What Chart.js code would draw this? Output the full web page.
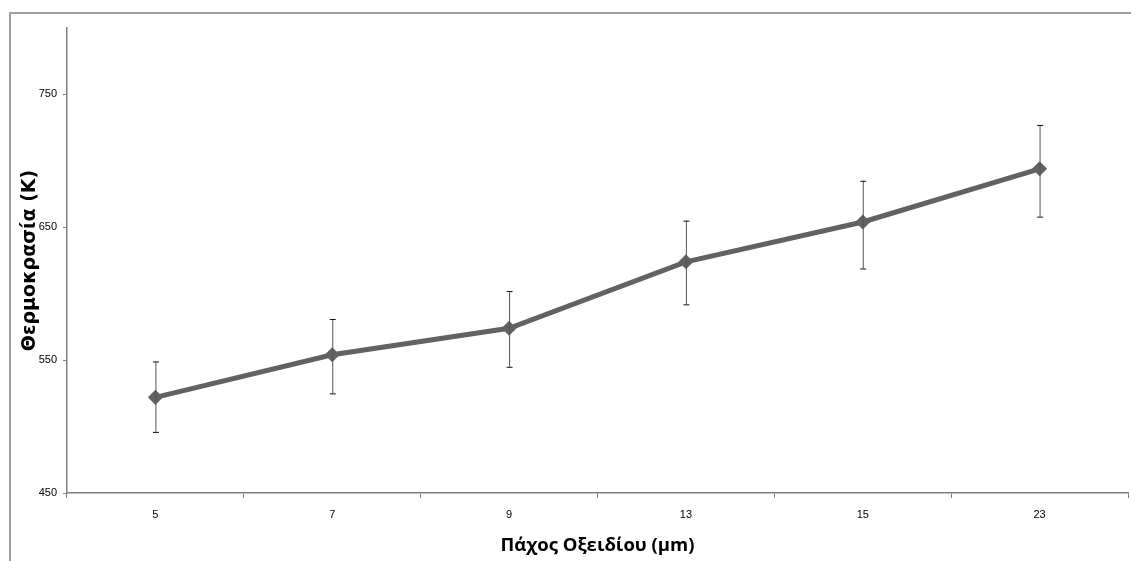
<!DOCTYPE html>
<html>
<head>
<meta charset="utf-8">
<script src="https://cdn.jsdelivr.net/npm/chart.js@4"></script>
<style>
body{margin:0;background:#fff;}
#wrap{position:relative;width:1131px;height:561px;}
#frame{position:absolute;left:9px;top:12px;right:0;bottom:0;border-left:2px solid #a0a0a0;border-top:2px solid #a0a0a0;}
canvas{position:absolute;left:0;top:0;}
</style>
</head>
<body>
<div id="wrap">
<div id="frame"></div>
<canvas id="c" width="1131" height="561"></canvas>
</div>
<script>

let thickness=["5","7","9","13","15","23"]
let temps=[522,554,574,624,654,694]
let errUp=[549,581,602,655,685,727]
let errDown=[496,525,545,592,619,658]
let yTicks=[450,550,650,750]

let errorBars={
id:"errorBars",
afterDatasetsDraw(chart){
let ctx=chart.ctx
let x=chart.scales.x
let y=chart.scales.y
ctx.save()
thickness.forEach((t,i)=>{
let px=x.getPixelForValue(i)
let top=y.getPixelForValue(errUp[i])
let bot=y.getPixelForValue(errDown[i])
ctx.strokeStyle="#555"
ctx.lineWidth=1
ctx.beginPath()
ctx.moveTo(px+0.5,top)
ctx.lineTo(px+0.5,bot)
ctx.stroke()
ctx.strokeStyle="#111"
ctx.beginPath()
ctx.moveTo(px-2.5,top+0.5)
ctx.lineTo(px+3.5,top+0.5)
ctx.moveTo(px-2.5,bot+0.5)
ctx.lineTo(px+3.5,bot+0.5)
ctx.stroke()
})
ctx.restore()
}
}

new Chart(
document.getElementById("c"),
{
type:"line",
data:{
labels:thickness,
datasets:[{
data:temps,
borderColor:"#626262",
backgroundColor:"#555",
borderWidth:5,
pointStyle:"rectRot",
pointRadius:4,
tension:0
}]
},
options:{
responsive:false,
animation:false,
layout:{autoPadding:false,padding:{left:0,top:28,right:3,bottom:0}},
plugins:{legend:{display:false},tooltip:{enabled:false}},
scales:{
x:{
offset:true,
grid:{offset:true,drawOnChartArea:false,color:"#808080",tickLength:5},
border:{color:"#808080",width:1.5},
ticks:{color:"#000",font:{family:"Liberation Sans Narrow, Liberation Sans",size:11},padding:10},
title:{display:true,text:"Πάχος Οξειδίου (μm)",color:"#000",font:{family:"Open Sans",size:18.5,weight:"bold"},padding:{top:3}},
afterFit(s){s.height=68}
},
y:{
min:450,
max:800,
afterBuildTicks(s){s.ticks=yTicks.map(v=>({value:v}))},
grid:{drawOnChartArea:false,color:"#808080",tickLength:4},
border:{color:"#808080",width:1.5},
ticks:{color:"#000",font:{family:"Liberation Sans Narrow, Liberation Sans",size:11},padding:6},
title:{display:true,text:"Θερμοκρασία (K)",color:"#000",font:{family:"DejaVu Sans",size:19,weight:"bold"},padding:{top:19,bottom:0}},
afterFit(s){s.width=67}
}
}
},
plugins:[errorBars]
})

</script>
</body>
</html>
